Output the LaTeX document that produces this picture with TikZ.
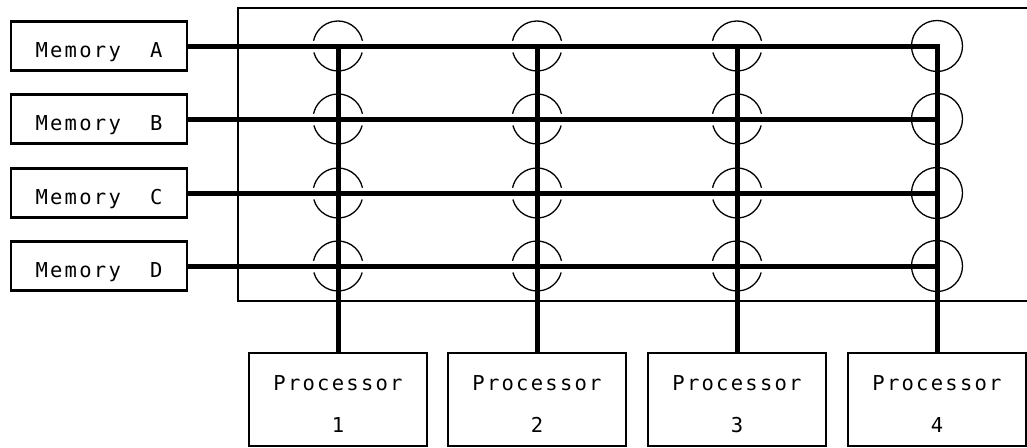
\documentclass[tikz,border=0pt]{standalone}
\usepackage{fontspec}
\newfontfamily\plotfont[LetterSpace=11]{DejaVu Sans Mono}
\begin{document}
\begin{tikzpicture}[x=1pt,y=-1pt,
  membox/.style={draw, line width=2.7pt, minimum width=176pt, minimum height=49pt,
    inner sep=0pt, font=\plotfont\fontsize{20.5}{23}\selectfont,
    text height=22pt, text depth=0pt},
  procbox/.style={draw, line width=2.7pt, minimum width=178pt, minimum height=93pt, inner sep=0pt},
  proctext/.style={align=center, yshift=-4.5pt, font=\plotfont\fontsize{20.5}{42}\selectfont},
  bus/.style={line width=5pt, line join=miter},
  frame/.style={line width=1.3pt},
  sw/.style={line width=1.3pt}]
\useasboundingbox (0,0) rectangle (1027,447);

% switch matrix frame
\draw[frame] (238,8) rectangle (1035,301);

% crosspoints
\foreach \c/\x in {1/338,2/537,3/737,4/937}{
  \foreach \r/\y in {A/46,B/119,C/193,D/266}{
    \coordinate (X\c\r) at (\x,\y);
  }
}

% switch symbols
\foreach \c in {1,2,3}{
  \foreach \r in {A,B,C,D}{
    \draw[sw] (X\c\r) ++(12:25pt) arc[start angle=12, end angle=168, radius=25pt];
    \draw[sw] (X\c\r) ++(195:25pt) arc[start angle=195, end angle=345, radius=25pt];
  }
}
\foreach \r in {A,B,C,D}{
  \draw[sw] (X4\r) circle[radius=25.5pt];
}

% memories
\node[membox] (mA) at (99,46)  {Memory\ \ A};
\node[membox] (mB) at (99,119) {Memory\ \ B};
\node[membox] (mC) at (99,193) {Memory\ \ C};
\node[membox] (mD) at (99,266) {Memory\ \ D};

% processors
\node[procbox, label={[name=t1, proctext]center:Processor\\1}] (p1) at (338,399.5) {};
\node[procbox, label={[name=t2, proctext]center:Processor\\2}] (p2) at (537,399.5) {};
\node[procbox, label={[name=t3, proctext]center:Processor\\3}] (p3) at (737,399.5) {};
\node[procbox, label={[name=t4, proctext]center:Processor\\4}] (p4) at (937,399.5) {};

% buses
\draw[bus] (mA.east) -- (X4A) -- (p4.north);
\draw[bus] (mB.east) -- (X4B);
\draw[bus] (mC.east) -- (X4C);
\draw[bus] (mD.east) -- (X4D);
\draw[bus] (X1A) -- (p1.north);
\draw[bus] (X2A) -- (p2.north);
\draw[bus] (X3A) -- (p3.north);
\end{tikzpicture}
\end{document}
